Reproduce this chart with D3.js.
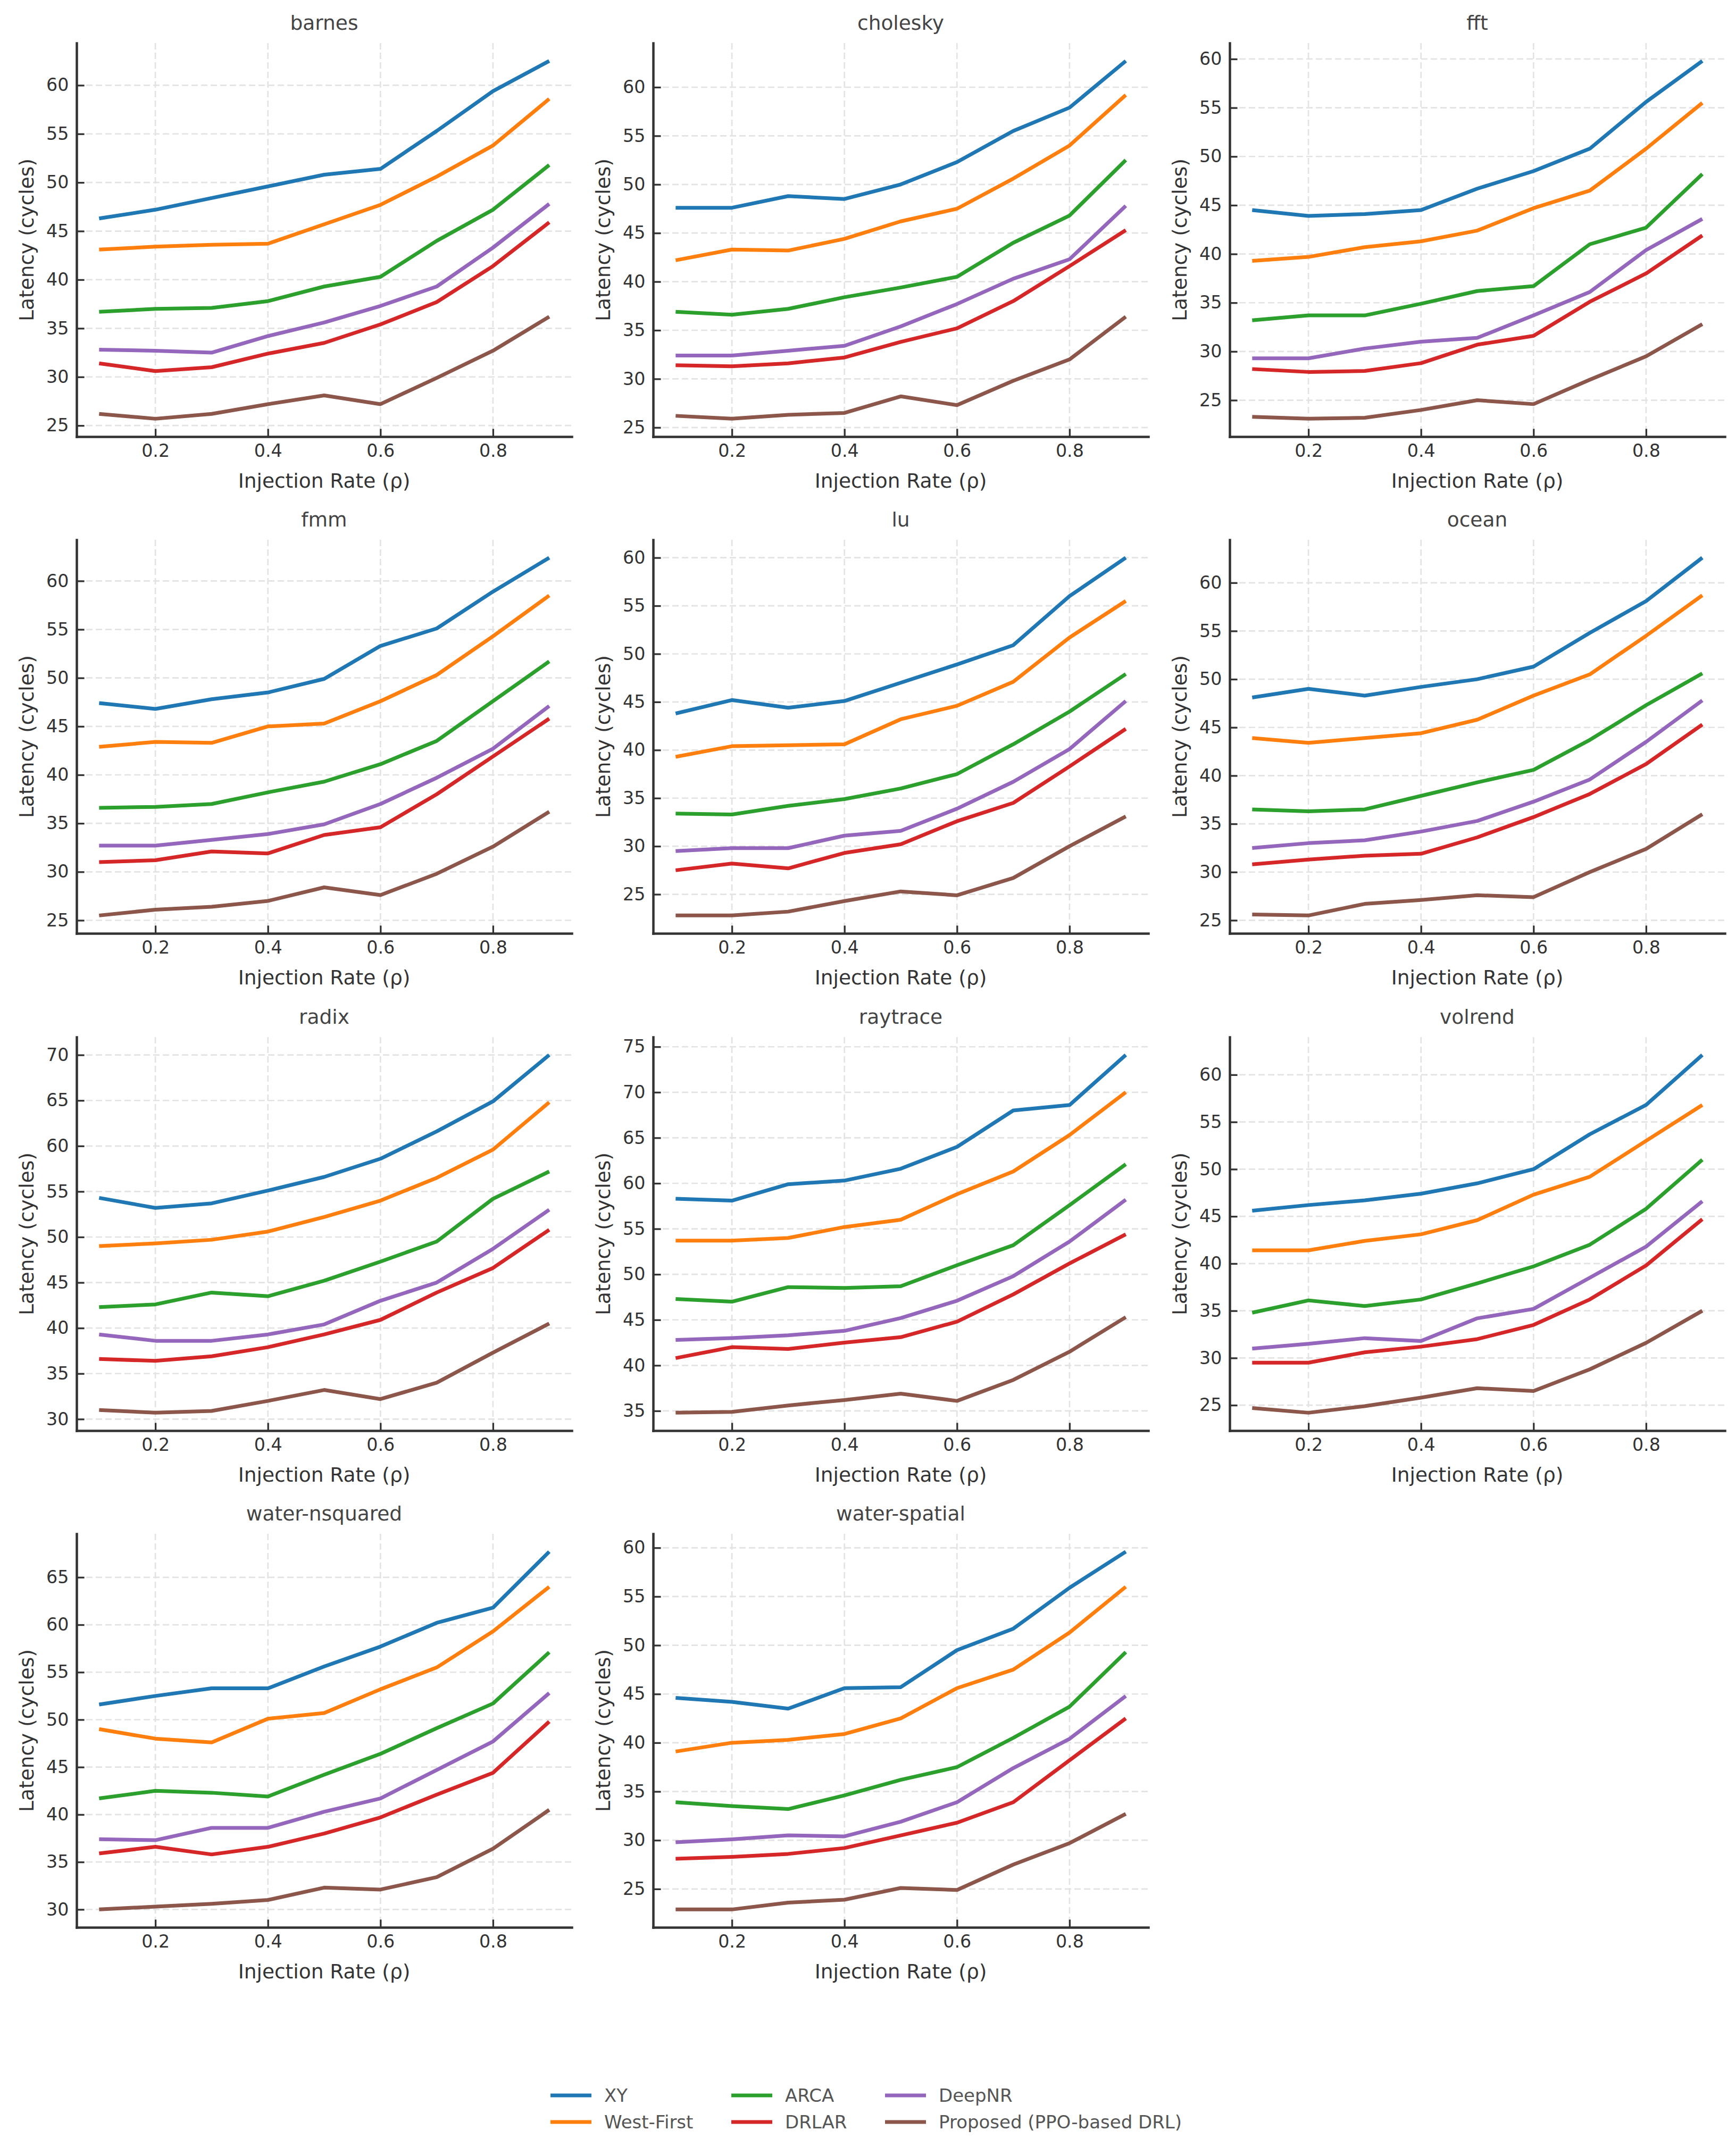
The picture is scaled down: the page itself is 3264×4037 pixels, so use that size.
<!DOCTYPE html>
<html>
<head>
<meta charset="utf-8">
<script src="https://cdn.jsdelivr.net/npm/d3@7"></script>
<style>
  body { margin: 0; background: #fff; }
  svg { display: block; font-family: "DejaVu Sans", sans-serif; }
</style>
</head>
<body>
<div id="chart"></div>
<script>
const WIDTH = 3264;
const HEIGHT = 4037;

// data
const rates = [0.1, 0.2, 0.3, 0.4, 0.5, 0.6, 0.7, 0.8, 0.9];
const methods = ['XY', 'West-First', 'ARCA', 'DRLAR', 'DeepNR', 'Proposed (PPO-based DRL)'];
const benchmarks = ['barnes', 'cholesky', 'fft', 'fmm', 'lu', 'ocean', 'radix', 'raytrace', 'volrend', 'water-nsquared', 'water-spatial'];
const xTicks = [0.2, 0.4, 0.6, 0.8];

// one row per method, same order as `methods`
const barnes = [
    [46.3, 47.2, 48.4, 49.6, 50.8, 51.4, 55.3, 59.4, 62.5],
    [43.1, 43.4, 43.6, 43.7, 45.7, 47.7, 50.6, 53.8, 58.6],
    [36.7, 37.0, 37.1, 37.8, 39.3, 40.3, 44.0, 47.2, 51.8],
    [31.4, 30.6, 31.0, 32.4, 33.5, 35.4, 37.7, 41.4, 45.9],
    [32.8, 32.7, 32.5, 34.2, 35.6, 37.3, 39.3, 43.3, 47.8],
    [26.2, 25.7, 26.2, 27.2, 28.1, 27.2, 29.9, 32.7, 36.2]
];
const cholesky = [
    [47.6, 47.6, 48.8, 48.5, 50.0, 52.3, 55.5, 57.9, 62.7],
    [42.2, 43.3, 43.2, 44.4, 46.2, 47.5, 50.6, 54.0, 59.2],
    [36.9, 36.6, 37.2, 38.4, 39.4, 40.5, 44.0, 46.8, 52.5],
    [31.4, 31.3, 31.6, 32.2, 33.8, 35.2, 38.0, 41.6, 45.3],
    [32.4, 32.4, 32.9, 33.4, 35.4, 37.7, 40.3, 42.3, 47.8],
    [26.2, 25.9, 26.3, 26.5, 28.2, 27.3, 29.8, 32.0, 36.4]
];
const fft = [
    [44.5, 43.9, 44.1, 44.5, 46.7, 48.5, 50.8, 55.6, 59.8],
    [39.3, 39.7, 40.7, 41.3, 42.4, 44.7, 46.5, 50.8, 55.5],
    [33.2, 33.7, 33.7, 34.9, 36.2, 36.7, 41.0, 42.7, 48.2],
    [28.2, 27.9, 28.0, 28.8, 30.7, 31.6, 35.1, 38.0, 41.9],
    [29.3, 29.3, 30.3, 31.0, 31.4, 33.7, 36.1, 40.4, 43.6],
    [23.3, 23.1, 23.2, 24.0, 25.0, 24.6, 27.1, 29.5, 32.8]
];
const fmm = [
    [47.4, 46.8, 47.8, 48.5, 49.9, 53.3, 55.1, 58.9, 62.4],
    [42.9, 43.4, 43.3, 45.0, 45.3, 47.6, 50.3, 54.3, 58.5],
    [36.6, 36.7, 37.0, 38.2, 39.3, 41.1, 43.5, 47.6, 51.7],
    [31.0, 31.2, 32.1, 31.9, 33.8, 34.6, 38.0, 41.9, 45.8],
    [32.7, 32.7, 33.3, 33.9, 34.9, 37.0, 39.7, 42.7, 47.1],
    [25.5, 26.1, 26.4, 27.0, 28.4, 27.6, 29.8, 32.6, 36.2]
];
const lu = [
    [43.8, 45.2, 44.4, 45.1, 47.0, 48.9, 50.9, 56.0, 60.0],
    [39.3, 40.4, 40.5, 40.6, 43.2, 44.6, 47.1, 51.7, 55.5],
    [33.4, 33.3, 34.2, 34.9, 36.0, 37.5, 40.6, 44.0, 47.9],
    [27.5, 28.2, 27.7, 29.3, 30.2, 32.6, 34.5, 38.3, 42.2],
    [29.5, 29.8, 29.8, 31.1, 31.6, 33.9, 36.7, 40.1, 45.1],
    [22.8, 22.8, 23.2, 24.3, 25.3, 24.9, 26.7, 30.0, 33.1]
];
const ocean = [
    [48.1, 49.0, 48.3, 49.2, 50.0, 51.3, 54.8, 58.1, 62.6],
    [43.9, 43.4, 43.9, 44.4, 45.8, 48.3, 50.5, 54.5, 58.7],
    [36.5, 36.3, 36.5, 37.9, 39.3, 40.6, 43.7, 47.3, 50.6],
    [30.8, 31.3, 31.7, 31.9, 33.6, 35.7, 38.1, 41.2, 45.3],
    [32.5, 33.0, 33.3, 34.2, 35.3, 37.3, 39.6, 43.5, 47.8],
    [25.6, 25.5, 26.7, 27.1, 27.6, 27.4, 30.0, 32.4, 36.0]
];
const radix = [
    [54.3, 53.2, 53.7, 55.1, 56.6, 58.6, 61.6, 64.9, 70.0],
    [49.0, 49.3, 49.7, 50.6, 52.2, 54.0, 56.5, 59.6, 64.8],
    [42.3, 42.6, 43.9, 43.5, 45.2, 47.3, 49.5, 54.2, 57.2],
    [36.6, 36.4, 36.9, 37.9, 39.3, 40.9, 43.9, 46.6, 50.8],
    [39.3, 38.6, 38.6, 39.3, 40.4, 43.0, 45.0, 48.7, 53.0],
    [31.0, 30.7, 30.9, 32.0, 33.2, 32.2, 34.0, 37.3, 40.5]
];
const raytrace = [
    [58.3, 58.1, 59.9, 60.3, 61.6, 64.0, 68.0, 68.6, 74.1],
    [53.7, 53.7, 54.0, 55.2, 56.0, 58.8, 61.3, 65.3, 70.0],
    [47.3, 47.0, 48.6, 48.5, 48.7, 51.0, 53.2, 57.6, 62.1],
    [40.8, 42.0, 41.8, 42.5, 43.1, 44.8, 47.8, 51.2, 54.4],
    [42.8, 43.0, 43.3, 43.8, 45.2, 47.1, 49.8, 53.6, 58.2],
    [34.8, 34.9, 35.6, 36.2, 36.9, 36.1, 38.4, 41.5, 45.3]
];
const volrend = [
    [45.6, 46.2, 46.7, 47.4, 48.5, 50.0, 53.7, 56.8, 62.1],
    [41.4, 41.4, 42.4, 43.1, 44.6, 47.3, 49.2, 53.0, 56.8],
    [34.8, 36.1, 35.5, 36.2, 37.9, 39.7, 42.0, 45.8, 51.0],
    [29.5, 29.5, 30.6, 31.2, 32.0, 33.5, 36.2, 39.8, 44.7],
    [31.0, 31.5, 32.1, 31.8, 34.2, 35.2, 38.5, 41.8, 46.6],
    [24.7, 24.2, 24.9, 25.8, 26.8, 26.5, 28.8, 31.6, 35.0]
];
const waterNsquared = [
    [51.6, 52.5, 53.3, 53.3, 55.6, 57.7, 60.2, 61.8, 67.7],
    [49.0, 48.0, 47.6, 50.1, 50.7, 53.2, 55.5, 59.3, 64.0],
    [41.7, 42.5, 42.3, 41.9, 44.2, 46.4, 49.1, 51.7, 57.1],
    [35.9, 36.6, 35.8, 36.6, 38.0, 39.7, 42.1, 44.4, 49.8],
    [37.4, 37.3, 38.6, 38.6, 40.3, 41.7, 44.7, 47.7, 52.8],
    [30.0, 30.3, 30.6, 31.0, 32.3, 32.1, 33.4, 36.4, 40.5]
];
const waterSpatial = [
    [44.6, 44.2, 43.5, 45.6, 45.7, 49.5, 51.7, 55.9, 59.6],
    [39.1, 40.0, 40.3, 40.9, 42.5, 45.6, 47.5, 51.3, 56.0],
    [33.9, 33.5, 33.2, 34.6, 36.2, 37.5, 40.5, 43.7, 49.3],
    [28.1, 28.3, 28.6, 29.2, 30.5, 31.8, 33.9, 38.2, 42.5],
    [29.8, 30.1, 30.5, 30.4, 31.9, 33.9, 37.4, 40.4, 44.8],
    [22.9, 22.9, 23.6, 23.9, 25.1, 24.9, 27.5, 29.7, 32.7]
];
const latency = [barnes, cholesky, fft, fmm, lu, ocean, radix, raytrace, volrend, waterNsquared, waterSpatial];

// tab10
const COLORS = ['#1f77b4', '#ff7f0e', '#2ca02c', '#d62728', '#9467bd', '#8c564b'];

// grid geometry (pixels)
const COL_X = [144, 1228, 2312];
const ROW_Y = [81, 1015, 1950, 2884];
const PLOT_W = 931;
const PLOT_H = 740;
const TICK_LEN = 14.6;
const TICK_FONT = 33.3;
const LABEL_FONT = 37.5;
const LINE_W = 7;
const INK = '#333333';

const svg = d3.select('#chart')
    .append('svg')
    .attr('width', WIDTH)
    .attr('height', HEIGHT);

const line = d3.line();

benchmarks.forEach((name, idx) => {
    const series = latency[idx];
    const col = idx % 3;
    const row = Math.floor(idx / 3);
    const g = svg.append('g')
        .attr('transform', `translate(${COL_X[col]}, ${ROW_Y[row]})`);

    // matplotlib style 5% margins
    const lo = d3.min(series, s => d3.min(s));
    const hi = d3.max(series, s => d3.max(s));
    const pad = (hi - lo) * 0.05;

    const x = d3.scaleLinear()
        .domain([0.1 - 0.04, 0.9 + 0.04])
        .range([0, PLOT_W]);
    const y = d3.scaleLinear()
        .domain([lo - pad, hi + pad])
        .range([PLOT_H, 0]);

    const yTicks = d3.range(Math.ceil((lo - pad) / 5) * 5, hi + pad, 5);

    // dashed grid under everything
    const grid = g.append('g')
        .attr('stroke', '#e3e3e3')
        .attr('stroke-width', 2.7)
        .attr('stroke-dasharray', '12,6');
    grid.selectAll('.gx')
        .data(xTicks)
        .enter()
        .append('line')
        .attr('x1', d => x(d))
        .attr('x2', d => x(d))
        .attr('y1', 0)
        .attr('y2', PLOT_H);
    grid.selectAll('.gy')
        .data(yTicks)
        .enter()
        .append('line')
        .attr('x1', 0)
        .attr('x2', PLOT_W)
        .attr('y1', d => y(d))
        .attr('y2', d => y(d));

    // series lines
    g.selectAll('.series')
        .data(series)
        .enter()
        .append('path')
        .attr('fill', 'none')
        .attr('stroke', (d, i) => COLORS[i])
        .attr('stroke-width', LINE_W)
        .attr('stroke-linejoin', 'round')
        .attr('d', d => line(d.map((v, j) => [x(rates[j]), y(v)])));

    // axes, ticks pointing inward
    const xAxis = d3.axisBottom(x)
        .tickValues(xTicks)
        .tickFormat(d3.format('.1f'))
        .tickSizeInner(-TICK_LEN)
        .tickSizeOuter(0)
        .tickPadding(TICK_LEN);
    const yAxis = d3.axisLeft(y)
        .tickValues(yTicks)
        .tickFormat(d3.format('d'))
        .tickSizeInner(-TICK_LEN)
        .tickSizeOuter(0)
        .tickPadding(TICK_LEN);

    [g.append('g').attr('transform', `translate(0, ${PLOT_H})`).call(xAxis),
     g.append('g').call(yAxis)].forEach(ax => {
        ax.attr('font-family', null).attr('font-size', null);
        ax.select('.domain')
            .attr('stroke', INK)
            .attr('stroke-width', 4.5)
            .attr('stroke-linecap', 'square');
        ax.selectAll('.tick line')
            .attr('stroke', INK)
            .attr('stroke-width', 3.3);
        ax.selectAll('.tick text')
            .attr('fill', INK)
            .style('font-size', TICK_FONT + 'px');
    });

    g.append('text')
        .attr('x', PLOT_W / 2)
        .attr('y', -25)
        .attr('text-anchor', 'middle')
        .attr('fill', '#444')
        .style('font-size', LABEL_FONT + 'px')
        .text(name);

    g.append('text')
        .attr('x', PLOT_W / 2)
        .attr('y', PLOT_H + 96)
        .attr('text-anchor', 'middle')
        .attr('fill', INK)
        .style('font-size', LABEL_FONT + 'px')
        .text('Injection Rate (ρ)');

    g.append('text')
        .attr('transform', `translate(-81, ${PLOT_H / 2}) rotate(-90)`)
        .attr('text-anchor', 'middle')
        .attr('fill', INK)
        .style('font-size', LABEL_FONT + 'px')
        .text('Latency (cycles)');
});

// legend, three columns filled top to bottom
const LEGEND_X = [1035, 1375, 1664];
const LEGEND_Y = [3940, 3990];
const legend = svg.append('g').attr('id', 'legend');
const item = legend.selectAll('g')
    .data(methods)
    .enter()
    .append('g')
    .attr('transform', (d, i) => `translate(${LEGEND_X[Math.floor(i / 2)]}, ${LEGEND_Y[i % 2]})`);
item.append('line')
    .attr('x1', 0)
    .attr('x2', 77)
    .attr('stroke', (d, i) => COLORS[i])
    .attr('stroke-width', LINE_W);
item.append('text')
    .attr('x', 101)
    .attr('dy', '0.35em')
    .attr('fill', '#555')
    .style('font-size', '34px')
    .text(d => d);
</script>
</body>
</html>
